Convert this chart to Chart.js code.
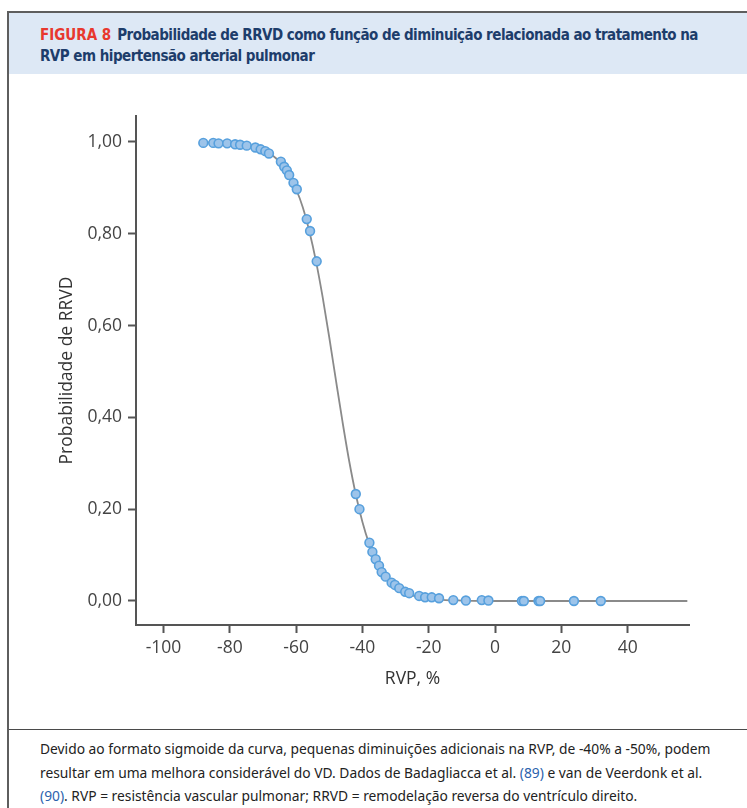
<!DOCTYPE html>
<html>
<head>
<meta charset="utf-8">
<script src="https://cdn.jsdelivr.net/npm/chart.js@4/dist/chart.umd.min.js"></script>
<style>
  html, body { margin: 0; padding: 0; width: 747px; height: 808px; overflow: hidden; background: #fff; }
  #frame { position: absolute; left: 7px; top: 11px; width: 800px; height: 900px; border: 2px solid #5e5e5e; box-sizing: border-box; }
  #head { position: absolute; left: 0; top: 0; right: 0; height: 61px; background: #dde8f5; }
  #title { position: absolute; left: 31px; top: 12px; white-space: nowrap; font-family: "Liberation Sans Narrow", "DejaVu Sans Condensed", sans-serif; font-weight: bold; font-size: 15px; letter-spacing: -0.52px; line-height: 21px; color: #1d3d6b; }
  #title .fig { color: #e8382e; letter-spacing: 0; margin-right: 6px; }
  #sep { position: absolute; left: 0; right: 0; top: 716px; border-top: 1.5px solid #4a4a4a; }
  #wrap { position: absolute; left: 10px; top: 76px; width: 737px; height: 650px; }
  #note { position: absolute; left: 40px; top: 737px; white-space: nowrap; font-family: "Noto Sans", sans-serif; font-size: 13.8px; line-height: 23.5px; color: #222; }
  #note .ref { color: #2b62ad; }
</style>
</head>
<body>
<div id="frame">
  <div id="head">
    <div id="title"><span class="fig">FIGURA 8</span>Probabilidade de RRVD como função de diminuição relacionada ao tratamento na<br>RVP em hipertensão arterial pulmonar</div>
  </div>
  <div id="sep"></div>
</div>
<div id="wrap"><canvas id="chart"></canvas></div>
<div id="note">Devido ao formato sigmoide da curva, pequenas diminuições adicionais na RVP, de -40% a -50%, podem<br>resultar em uma melhora considerável do VD. Dados de Badagliacca et al. <span class="ref">(89)</span> e van de Veerdonk et al.<br><span class="ref">(90)</span>. RVP = resistência vascular pulmonar; RRVD = remodelação reversa do ventrículo direito.</div>

<script>
// observed patients: change in RVP (%) and probability of RRVD
const rvp  = [-88.0, -85.0, -83.4, -80.8, -78.4, -76.9, -74.9, -72.3, -70.7, -69.3, -68.2,
              -64.6, -63.6, -62.8, -62.1, -60.8, -59.8, -56.8, -55.8, -53.8,
              -42.0, -40.9, -37.9, -37.0, -36.0, -35.0, -34.2, -33.0, -31.2, -30.2, -28.9,
              -27.1, -25.9, -22.9, -21.1, -19.1, -16.9, -12.6, -8.8, -4.0, -2.0,
              8.1, 8.7, 13.1, 13.6, 23.8, 31.9];
const prob = [0.998, 0.998, 0.997, 0.997, 0.995, 0.994, 0.992, 0.988, 0.984, 0.980, 0.975,
              0.957, 0.946, 0.938, 0.928, 0.911, 0.897, 0.832, 0.806, 0.740,
              0.233, 0.200, 0.127, 0.107, 0.091, 0.077, 0.063, 0.053, 0.040, 0.035, 0.028,
              0.020, 0.017, 0.011, 0.008, 0.008, 0.006, 0.002, 0.001, 0.002, 0.001,
              0.000, 0.000, 0.000, 0.000, 0.000, 0.000];

// fitted curve
const curveX = [-88, -80, -75, -70, -66, -62, -60, -58, -56, -54, -52, -50, -48, -46, -44,
                -42, -40, -38, -36, -34, -32, -30, -27, -24, -20, -15, -10, 0, 58];
const curveY = [0.999, 0.997, 0.993, 0.983, 0.964, 0.927, 0.897, 0.858, 0.805, 0.740, 0.662,
                0.574, 0.481, 0.390, 0.305, 0.232, 0.172, 0.125, 0.089, 0.063, 0.044, 0.031,
                0.018, 0.010, 0.005, 0.002, 0.001, 0.000, 0.000];

const xTicks = [-100, -80, -60, -40, -20, 0, 20, 40];
const yTicks = [0, 0.2, 0.4, 0.6, 0.8, 1.0];
const yTickLabels = ['0,00', '0,20', '0,40', '0,60', '0,80', '1,00'];

const axisFont = { family: '"Open Sans", sans-serif', size: 17.5 };
const axisColor = '#555';

const ctx = document.getElementById('chart').getContext('2d');
new Chart(ctx, {
  type: 'scatter',
  data: {
    datasets: [{
      label: 'Pacientes',
      data: rvp.map((x, i) => ({ x: x, y: prob[i] })),
      backgroundColor: '#9dc4ea',
      borderColor: '#57a0dd',
      borderWidth: 1.6,
      pointRadius: 4.4,
      order: 1
    }, {
      label: 'Curva',
      data: curveX.map((x, i) => ({ x: x, y: curveY[i] })),
      showLine: true,
      borderColor: '#8a8a8a',
      borderWidth: 1.8,
      pointRadius: 0,
      cubicInterpolationMode: 'monotone',
      order: 2
    }]
  },
  options: {
    responsive: true,
    maintainAspectRatio: false,
    animation: false,
    layout: { padding: { top: 40, right: 58, bottom: 0, left: 0 } },
    plugins: { legend: { display: false }, tooltip: { enabled: false } },
    scales: {
      x: {
        type: 'linear',
        min: -108.3,
        max: 58.5,
        afterBuildTicks: s => { s.ticks = xTicks.map(v => ({ value: v })); },
        afterFit: s => { s.height = 101; },
        border: { color: axisColor, width: 2 },
        grid: { drawOnChartArea: false, tickLength: 8, tickColor: axisColor, tickWidth: 2 },
        ticks: { font: axisFont, color: '#444', padding: 5, maxRotation: 0, callback: v => String(v) },
        title: { display: true, text: 'RVP, %', font: axisFont, color: '#333', padding: { top: 4, bottom: 36 } }
      },
      y: {
        min: -0.0523,
        max: 1.0566,
        afterBuildTicks: s => { s.ticks = yTicks.map(v => ({ value: v })); },
        afterFit: s => { s.width = 126; },
        border: { color: axisColor, width: 2 },
        grid: { drawOnChartArea: false, tickLength: 8, tickColor: axisColor, tickWidth: 2 },
        ticks: {
          font: axisFont, color: '#444', padding: 6,
          callback: v => yTickLabels[yTicks.findIndex(t => Math.abs(t - v) < 1e-6)]
        },
        title: { display: true, text: 'Probabilidade de RRVD', font: axisFont, color: '#333', padding: { top: 47, bottom: 4 } }
      }
    }
  }
});
</script>
</body>
</html>
